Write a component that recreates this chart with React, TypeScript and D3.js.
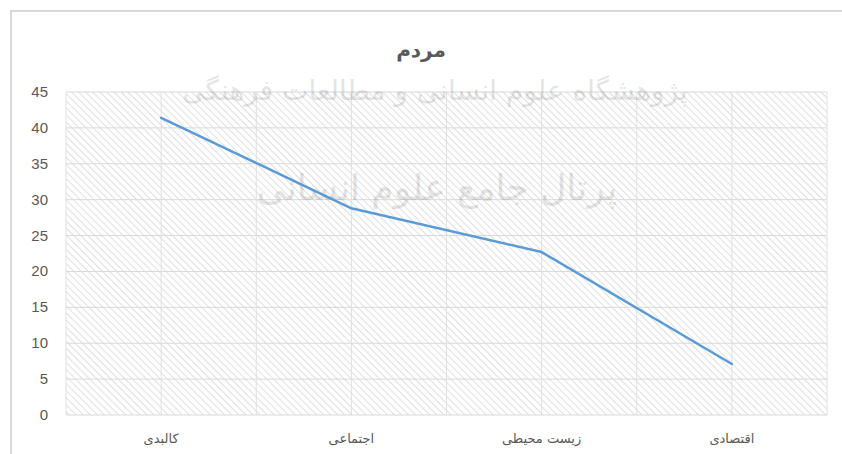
import React from "react";
import * as d3 from "d3";

const categories = ["کالبدی", "اجتماعی", "زیست محیطی", "اقتصادی"];
const values = [41.4, 28.8, 22.7, 7.1];
const yTicks = [0, 5, 10, 15, 20, 25, 30, 35, 40, 45];
const title = "مردم";
const watermark1 = "پژوهشگاه علوم انسانی و مطالعات فرهنگی";
const watermark2 = "پرتال جامع علوم انسانی";

export default function App() {
  const W = 842, H = 454;
  const left = 66, right = 827, top = 92, bottom = 415;
  const x = d3.scaleBand<string>().domain(categories).range([left, right]).padding(0);
  const y = d3.scaleLinear().domain([0, 45]).range([bottom, top]);
  const bw = x.bandwidth();
  const line = d3.line<number>()
    .x((_, i) => (x(categories[i]) as number) + bw / 2)
    .y((d) => y(d));
  const vLines: number[] = [];
  for (let i = 0; i <= categories.length * 2; i++) vLines.push(left + (i * bw) / 2);

  return (
    <svg width={W} height={H} style={{ position: "absolute", left: 0, top: 0, background: "#fff" }}>
      <defs>
        <pattern id="hatch" patternUnits="userSpaceOnUse" width="5" height="5" patternTransform="rotate(-45)">
          <rect width="5" height="5" fill="#ffffff" />
          <line x1="0" y1="0" x2="0" y2="5" stroke="#d2d2d2" strokeWidth="1.4" />
        </pattern>
      </defs>
      <rect x={0} y={0} width={W} height={H} fill="#fff" />
      <path d={`M11,${H} L11,11 L${W},11`} fill="none" stroke="#d9d9d9" strokeWidth={2} />
      <rect x={left} y={top} width={right - left} height={bottom - top} fill="url(#hatch)" />
      {yTicks.map((t) => (
        <line key={"h" + t} x1={left} x2={right} y1={y(t)} y2={y(t)} stroke="#d9d9d9" strokeWidth={1} />
      ))}
      {vLines.map((v, i) => (
        <line key={"v" + i} x1={v} x2={v} y1={top} y2={bottom} stroke="#e0e0e0" strokeWidth={1} />
      ))}
      <text x={435} y={100} textAnchor="middle" fontFamily="DejaVu Sans" fontSize={28} fill="#000" opacity={0.1} direction="rtl">
        {watermark1}
      </text>
      <text x={437} y={200} textAnchor="middle" fontFamily="DejaVu Sans" fontSize={36} fill="#000" opacity={0.1} direction="rtl">
        {watermark2}
      </text>
      <text x={421} y={57} textAnchor="middle" fontFamily="DejaVu Sans" fontWeight="bold" fontSize={20} fill="#595959">
        {title}
      </text>
      {yTicks.map((t) => (
        <text key={"yl" + t} x={48} y={y(t) + 5} textAnchor="end" fontFamily="Liberation Sans, Arial, sans-serif" fontSize={15} fill="#595959">
          {t}
        </text>
      ))}
      {categories.map((c) => (
        <text key={c} x={(x(c) as number) + bw / 2} y={443} textAnchor="middle" fontFamily="DejaVu Sans" fontSize={13} fill="#595959">
          {c}
        </text>
      ))}
      <path d={line(values) || ""} fill="none" stroke="#5B9BD5" strokeWidth={2.5} strokeLinejoin="round" strokeLinecap="round" />
    </svg>
  );
}
